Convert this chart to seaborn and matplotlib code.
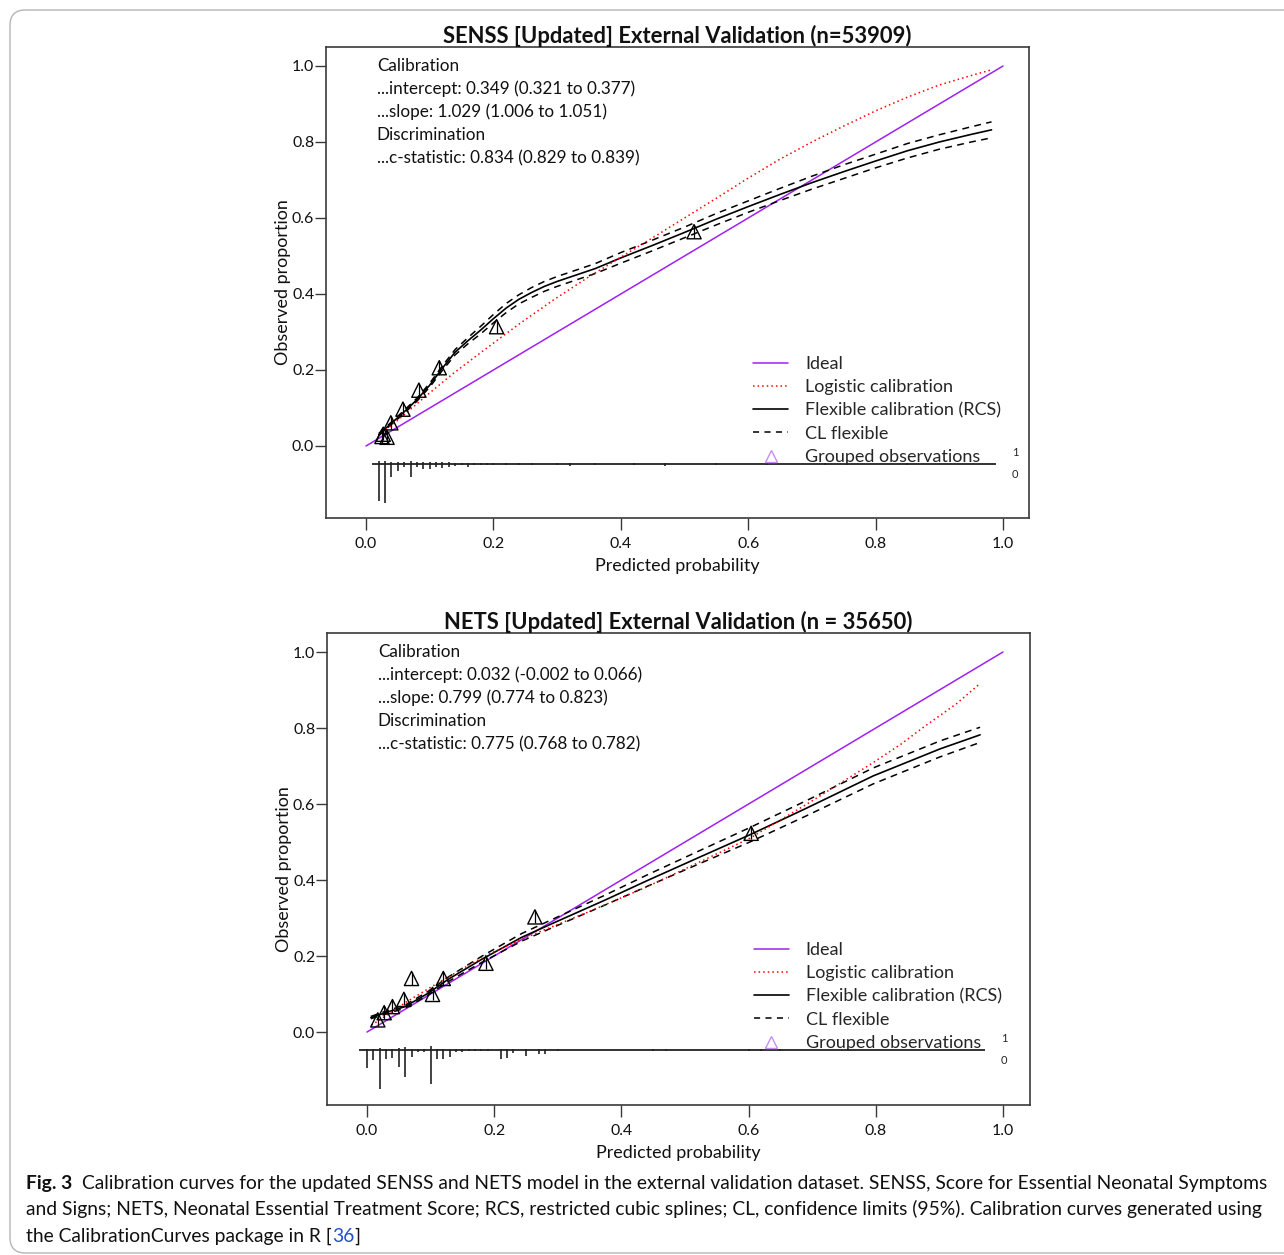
import numpy as np
import pandas as pd
import matplotlib
matplotlib.use("Agg")
import matplotlib.pyplot as plt
import seaborn as sns
from matplotlib.lines import Line2D
from matplotlib.patches import FancyBboxPatch
from matplotlib import font_manager as fm

# ---------------- data ----------------
# SENSS panel
top_title = "SENSS [Updated] External Validation (n=53909)"
top_stats = ["Calibration",
             "...intercept: 0.349 (0.321 to 0.377)",
             "...slope: 1.029 (1.006 to 1.051)",
             "Discrimination",
             "...c-statistic: 0.834 (0.829 to 0.839)"]
top_ideal_p = [0.0, 1.0]
top_ideal_o = [0.0, 1.0]
top_log_p = [0.020, 0.050, 0.093, 0.137, 0.189, 0.242, 0.294, 0.346, 0.400, 0.450, 0.500,
             0.550, 0.600, 0.650, 0.700, 0.750, 0.800, 0.850, 0.900, 0.950, 0.980]
top_log_o = [0.028, 0.068, 0.130, 0.191, 0.257, 0.323, 0.384, 0.441, 0.497, 0.548, 0.600,
             0.652, 0.705, 0.755, 0.800, 0.842, 0.882, 0.918, 0.950, 0.975, 0.989]
top_flex_p = [0.02, 0.04, 0.06, 0.08, 0.10, 0.12, 0.14, 0.16, 0.18, 0.20, 0.22, 0.24, 0.26, 0.28,
              0.30, 0.33, 0.36, 0.40, 0.45, 0.50, 0.55, 0.60, 0.65, 0.70, 0.75, 0.80, 0.85,
              0.90, 0.95, 0.982]
top_flex_o = [0.030, 0.060, 0.090, 0.122, 0.160, 0.205, 0.247, 0.277, 0.305, 0.335, 0.363, 0.386,
              0.404, 0.420, 0.433, 0.450, 0.467, 0.495, 0.528, 0.562, 0.597, 0.630, 0.662, 0.693,
              0.722, 0.750, 0.777, 0.800, 0.820, 0.832]
top_cl_hi = [0.033, 0.063, 0.094, 0.126, 0.165, 0.211, 0.254, 0.285, 0.315, 0.346, 0.375, 0.398,
             0.417, 0.433, 0.446, 0.463, 0.480, 0.509, 0.542, 0.576, 0.612, 0.645, 0.678, 0.710,
             0.740, 0.768, 0.796, 0.819, 0.840, 0.853]
top_cl_lo = [0.027, 0.057, 0.086, 0.118, 0.155, 0.199, 0.240, 0.269, 0.295, 0.324, 0.351, 0.374,
             0.391, 0.407, 0.420, 0.437, 0.454, 0.481, 0.514, 0.548, 0.582, 0.615, 0.646, 0.676,
             0.704, 0.732, 0.758, 0.781, 0.800, 0.811]
top_grp_p = [0.025, 0.027, 0.033, 0.039, 0.058, 0.083, 0.115, 0.205, 0.515]
top_grp_o = [0.025, 0.031, 0.023, 0.061, 0.097, 0.147, 0.206, 0.314, 0.564]
top_rug_range = [0.009, 0.989]
top_rug_x = [0.02, 0.03, 0.04, 0.05, 0.06, 0.07, 0.08, 0.09, 0.10, 0.11, 0.12, 0.13, 0.14, 0.15,
             0.16, 0.17, 0.18, 0.19, 0.20, 0.22, 0.24, 0.26, 0.30, 0.32, 0.36, 0.42, 0.47, 0.55,
             0.63, 0.72, 0.85]
top_rug_n0 = [95, 100, 34, 18, 7, 33, 7, 13, 13, 9, 10, 7, 6, 4, 7, 4, 3, 3, 3, 3, 3, 3, 4, 6,
              3, 3, 5, 3, 3, 3, 3]
top_rug_n1 = [8, 8, 6, 5, 4, 8, 4, 5, 5, 4, 5, 4, 3, 3, 3, 3, 2, 2, 2, 2, 2, 2, 2, 2,
              2, 2, 2, 2, 2, 2, 2]

# NETS panel
bot_title = "NETS [Updated] External Validation (n = 35650)"
bot_stats = ["Calibration",
             "...intercept: 0.032 (-0.002 to 0.066)",
             "...slope: 0.799 (0.774 to 0.823)",
             "Discrimination",
             "...c-statistic: 0.775 (0.768 to 0.782)"]
bot_ideal_p = [0.0, 1.0]
bot_ideal_o = [0.0, 1.0]
bot_log_p = [0.007, 0.060, 0.112, 0.191, 0.269, 0.348, 0.440, 0.520, 0.602, 0.691, 0.750,
             0.796, 0.840, 0.875, 0.927, 0.964]
bot_log_o = [0.018, 0.077, 0.130, 0.205, 0.262, 0.316, 0.382, 0.445, 0.510, 0.599, 0.661,
             0.709, 0.758, 0.802, 0.864, 0.917]
bot_flex_p = [0.006, 0.033, 0.060, 0.096, 0.128, 0.180, 0.243, 0.296, 0.374, 0.440, 0.520,
              0.602, 0.691, 0.796, 0.901, 0.964]
bot_flex_o = [0.038, 0.053, 0.067, 0.102, 0.139, 0.191, 0.249, 0.289, 0.347, 0.398, 0.458,
              0.519, 0.589, 0.674, 0.745, 0.782]
bot_cl_hi = [0.041, 0.057, 0.071, 0.107, 0.145, 0.199, 0.259, 0.300, 0.360, 0.413, 0.475,
             0.538, 0.609, 0.695, 0.766, 0.802]
bot_cl_lo = [0.035, 0.049, 0.063, 0.097, 0.133, 0.183, 0.239, 0.278, 0.334, 0.383, 0.441,
             0.500, 0.569, 0.653, 0.724, 0.762]
bot_grp_p = [0.017, 0.027, 0.040, 0.058, 0.070, 0.103, 0.120, 0.187, 0.264, 0.604]
bot_grp_o = [0.032, 0.051, 0.067, 0.086, 0.141, 0.099, 0.141, 0.181, 0.303, 0.523]
bot_rug_range = [-0.013, 0.972]
bot_rug_x = [0.00, 0.01, 0.02, 0.03, 0.04, 0.05, 0.06, 0.07, 0.08, 0.09, 0.10, 0.11, 0.12, 0.13,
             0.14, 0.15, 0.16, 0.17, 0.18, 0.19, 0.21, 0.22, 0.23, 0.25, 0.27, 0.28, 0.30, 0.45,
             0.47, 0.60, 0.62, 0.65]
bot_rug_n0 = [47, 26, 100, 24, 21, 45, 71, 18, 5, 5, 89, 24, 24, 18, 5, 5, 4, 4, 3, 3, 24, 21,
              8, 16, 11, 11, 3, 3, 3, 4, 4, 3]
bot_rug_n1 = [3, 3, 5, 3, 3, 4, 7, 3, 2, 2, 9, 3, 3, 3, 2, 2, 2, 2, 2, 2, 3, 3,
              2, 2, 2, 2, 2, 2, 2, 2, 2, 2]

x_ticks = [0.0, 0.2, 0.4, 0.6, 0.8, 1.0]
y_ticks = [0.0, 0.2, 0.4, 0.6, 0.8, 1.0]
legend_labels = ["Ideal", "Logistic calibration", "Flexible calibration (RCS)",
                 "CL flexible", "Grouped observations"]
caption_lead = "Fig. 3"
caption_l1 = "Calibration curves for the updated SENSS and NETS model in the external validation dataset. SENSS, Score for Essential Neonatal Symptoms"
caption_l2 = "and Signs; NETS, Neonatal Essential Treatment Score; RCS, restricted cubic splines; CL, confidence limits (95%). Calibration curves generated using"
caption_l3a = "the CalibrationCurves package in R ["
caption_ref = "36"
caption_l3b = "]"

# ---------------- style ----------------
sns.set_theme(style="ticks")
FONT = "Lato"
plt.rcParams["font.family"] = [FONT, "DejaVu Sans"]
PURPLE = "#A020F0"
RED = "#FF0000"
LAV = "#C88DF5"
SPINE = "#3a3a3a"

W, H = 1284, 1255
fig = plt.figure(figsize=(W / 100, H / 100), dpi=100)
renderer = fig.canvas.get_renderer()


def width_px(s, size, **kw):
    t = fig.text(0, 0, s, fontsize=size, **kw)
    w = t.get_window_extent(renderer).width
    t.remove()
    return w


def fit(s, target, **kw):
    return 10 * target / width_px(s, 10, **kw)


title_fs = fit(top_title, 469, fontweight="bold")
stat_fs = fit(top_stats[1], 259)
leg_fs = fit(legend_labels[2], 196)
lab_fs = fit("Predicted probability", 165)
tick_fs = fit("0.0", 22)
leg_px = leg_fs * 100 / 72.0

rug_scale = 0.102 / 100.0
rug_base = -0.047


def panel(rect, d):
    ax = fig.add_axes(rect)
    ax.set_xlim(d["xlim"])
    ax.set_ylim(d["ylim"])
    df_ideal = pd.DataFrame({"p": d["ideal_p"], "o": d["ideal_o"]})
    df_log = pd.DataFrame({"p": d["log_p"], "o": d["log_o"]})
    df_flex = pd.DataFrame({"p": d["flex_p"], "o": d["flex_o"],
                            "hi": d["hi"], "lo": d["lo"]})
    sns.lineplot(data=df_ideal, x="p", y="o", ax=ax, color=PURPLE, lw=1.1,
                 estimator=None, sort=False)
    sns.lineplot(data=df_flex, x="p", y="hi", ax=ax, color="black", lw=1.1,
                 ls=(0, (4.5, 3.5)), estimator=None, sort=False)
    sns.lineplot(data=df_flex, x="p", y="lo", ax=ax, color="black", lw=1.1,
                 ls=(0, (4.5, 3.5)), estimator=None, sort=False)
    sns.lineplot(data=df_flex, x="p", y="o", ax=ax, color="black", lw=1.2,
                 estimator=None, sort=False)
    sns.lineplot(data=df_log, x="p", y="o", ax=ax, color=RED, lw=1.1,
                 ls=(0, (1, 2)), estimator=None, sort=False)
    gp = np.array(d["grp_p"])
    go = np.array(d["grp_o"])
    ax.vlines(gp, go - 0.016, go + 0.017, color="black", lw=0.9)
    sns.scatterplot(x=gp, y=go, ax=ax, marker="^", s=105, fc="none", ec="black",
                    linewidth=1.0, zorder=5)
    # rug histogram
    rx = np.array(d["rug_x"])
    ax.hlines(rug_base, d["rug_range"][0], d["rug_range"][1], color="#222222", lw=1.3)
    ax.vlines(rx, rug_base, rug_base - np.array(d["rug_n0"]) * rug_scale, color="#222222", lw=1.2)
    ax.vlines(rx, rug_base, rug_base + np.array(d["rug_n1"]) * rug_scale, color="#222222", lw=1.2)
    ax.text(d["rug_range"][1] + 0.03, rug_base + 0.031, "1", fontsize=8, ha="center", va="center")
    ax.text(d["rug_range"][1] + 0.03, rug_base - 0.029, "0", fontsize=8, ha="center", va="center")
    # stats text
    for i, s in enumerate(d["stats"]):
        ax.text(0.017, 1.0 - i * 0.0605, s, fontsize=stat_fs, ha="left", va="center",
                color="#111111")
    # legend
    handles = [Line2D([], [], color=PURPLE, lw=1.1),
               Line2D([], [], color=RED, lw=1.1, ls=(0, (1, 2))),
               Line2D([], [], color="black", lw=1.2),
               Line2D([], [], color="black", lw=1.1, ls=(0, (4, 3.5))),
               Line2D([], [], color=LAV, lw=0, marker="^", markersize=9,
                      markerfacecolor="none", markeredgecolor=LAV, markeredgewidth=1.0)]
    ax.legend(handles, legend_labels, loc="upper left", bbox_to_anchor=(0.608, 0.237),
              bbox_transform=ax.transData, frameon=False, fontsize=leg_fs,
              handlelength=35 / leg_px, handletextpad=17 / leg_px, labelspacing=0.40,
              borderpad=0, borderaxespad=0)
    ax.set_xticks(x_ticks)
    ax.set_yticks(y_ticks)
    ax.set_xticklabels([f"{v:.1f}" for v in x_ticks])
    ax.set_yticklabels([f"{v:.1f}" for v in y_ticks])
    ax.tick_params(axis="x", direction="out", length=8.5, width=1.0, pad=5,
                   labelsize=tick_fs, colors=SPINE, labelcolor="#111111")
    ax.tick_params(axis="y", direction="out", length=8, width=1.0, pad=0.5,
                   labelsize=tick_fs, colors=SPINE, labelcolor="#111111")
    for sp in ax.spines.values():
        sp.set_visible(True)
        sp.set_color(SPINE)
        sp.set_linewidth(1.2)
    ax.set_title(d["title"], fontweight="bold", fontsize=title_fs, pad=1.5, color="#111111")
    ax.set_xlabel("Predicted probability", fontsize=lab_fs, labelpad=5, color="#111111")
    ax.set_ylabel("Observed proportion", fontsize=lab_fs, labelpad=1, color="#111111")
    return ax


top = dict(title=top_title, stats=top_stats, ideal_p=top_ideal_p, ideal_o=top_ideal_o,
           log_p=top_log_p, log_o=top_log_o, flex_p=top_flex_p, flex_o=top_flex_o,
           hi=top_cl_hi, lo=top_cl_lo, grp_p=top_grp_p, grp_o=top_grp_o,
           rug_x=top_rug_x, rug_n0=top_rug_n0, rug_n1=top_rug_n1, rug_range=top_rug_range,
           xlim=(-0.0628, 1.0408), ylim=(-0.1895, 1.05))
bot = dict(title=bot_title, stats=bot_stats, ideal_p=bot_ideal_p, ideal_o=bot_ideal_o,
           log_p=bot_log_p, log_o=bot_log_o, flex_p=bot_flex_p, flex_o=bot_flex_o,
           hi=bot_cl_hi, lo=bot_cl_lo, grp_p=bot_grp_p, grp_o=bot_grp_o,
           rug_x=bot_rug_x, rug_n0=bot_rug_n0, rug_n1=bot_rug_n1, rug_range=bot_rug_range,
           xlim=(-0.0629, 1.0425), ylim=(-0.192, 1.05))

panel([326 / W, 1 - 518 / H, 703 / W, 471 / H], top)
panel([327 / W, 1 - 1105 / H, 703 / W, 472 / H], bot)

# ---------------- caption ----------------
cap_fam = [FONT, "DejaVu Sans"]
names = {f.name for f in fm.fontManager.ttflist}
if "Liberation Sans Narrow" in names:
    cap_fam = ["Liberation Sans Narrow", "DejaVu Sans"]
full1 = caption_lead + "  " + caption_l1
cap_fs = fit(full1, 1239, family=cap_fam)
y1, y2, y3 = 1 - 1183 / H, 1 - 1209 / H, 1 - 1236 / H
x0 = 26 / W
t_lead = fig.text(x0, y1, caption_lead, fontsize=cap_fs, fontweight="bold", family=cap_fam,
                  va="center", ha="left", color="#111111")
wl = t_lead.get_window_extent(renderer).width
sp = width_px("  ", cap_fs, family=cap_fam)
fig.text(x0 + (wl + sp) / W, y1, caption_l1, fontsize=cap_fs, family=cap_fam,
         va="center", ha="left", color="#111111")
fig.text(x0, y2, caption_l2, fontsize=cap_fs, family=cap_fam, va="center", ha="left",
         color="#111111")
t3 = fig.text(x0, y3, caption_l3a, fontsize=cap_fs, family=cap_fam, va="center", ha="left",
              color="#111111")
w3 = t3.get_window_extent(renderer).width
t4 = fig.text(x0 + w3 / W, y3, caption_ref, fontsize=cap_fs, family=cap_fam, va="center",
              ha="left", color="#1f4fd0")
w4 = t4.get_window_extent(renderer).width
fig.text(x0 + (w3 + w4) / W, y3, caption_l3b, fontsize=cap_fs, family=cap_fam, va="center",
         ha="left", color="#111111")

# border
border = FancyBboxPatch((10 / W, 2 / H), 1300 / W, 1243 / H,
                        boxstyle="round,pad=0,rounding_size=0.012",
                        transform=fig.transFigure, fc="none", ec="#b5b5b5", lw=1.0,
                        mutation_aspect=W / H)
fig.patches.append(border)

fig.savefig("out.png", dpi=100)
